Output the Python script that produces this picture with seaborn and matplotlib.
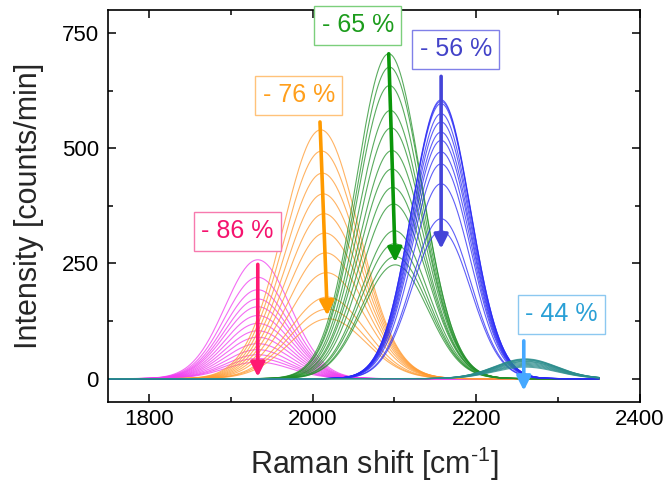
import numpy as np
import pandas as pd
import matplotlib
matplotlib.use("Agg")
import matplotlib.pyplot as plt
import seaborn as sns

# ---------------- data ----------------
x_start, x_stop = 1750, 2350

magenta_amp = [258, 220, 193, 173, 156, 137, 120, 104, 90, 76, 63, 52, 44, 36]
magenta_center = [1933] * 14
magenta_sigma = 40

orange_amp = [540, 494, 446, 401, 358, 316, 273, 230, 177, 151, 130]
orange_center = [2010, 2011, 2012, 2013, 2014, 2015, 2016, 2017, 2018, 2018, 2019]
orange_sigma = 46

green_amp = [705, 676, 636, 582, 544, 495, 455, 415, 379, 321, 293, 265, 247]
green_center = [2093, 2094, 2094, 2095, 2096, 2097, 2097, 2098, 2099, 2100, 2100, 2101, 2101]
green_sigma = 40

blue_amp = [605, 602, 597, 575, 557, 535, 517, 492, 466, 423, 347, 321]
blue_center = [2157] * 12
blue_sigma = 36

teal_amp = [43, 42, 41, 40, 38, 37, 35, 33, 31, 29, 27, 25]
teal_center = [2260] * 12
teal_sigma = 38

labels = ["- 86 %", "- 76 %", "- 65 %", "- 56 %", "- 44 %"]
label_x = [1908, 1983, 2055, 2175, 2304]
label_y = [320, 615, 767, 715, 140]
arrow_start = [(1933, 248), (2009, 557), (2093, 705), (2157, 656), (2258, 82)]
arrow_end = [(1933, 4), (2018, 137), (2101, 253), (2157, 282), (2258, -26)]

# ---------------- styles ----------------
line_colors = ["#f03cf0", "#ff9a30", "#23902a", "#2a2af5", "#2a8c8c"]
text_colors = ["#f5136e", "#ff9f1c", "#1c9c1c", "#4343c8", "#2aa0d6"]
edge_colors = ["#f77aae", "#ffc27a", "#7ccf7c", "#8080e8", "#8cc8f0"]
arrow_colors = ["#ff1a72", "#ff9a00", "#0a960a", "#4444d8", "#45a8ff"]

series = [
    (magenta_amp, magenta_center, magenta_sigma),
    (orange_amp, orange_center, orange_sigma),
    (green_amp, green_center, green_sigma),
    (blue_amp, blue_center, blue_sigma),
    (teal_amp, teal_center, teal_sigma),
]

shift = np.linspace(x_start, x_stop, 601)
frames = []
for s_idx, (amps, cents, sig) in enumerate(series):
    for c_idx, (a, c) in enumerate(zip(amps, cents)):
        frames.append(pd.DataFrame({
            "shift": shift,
            "intensity": a * np.exp(-0.5 * ((shift - c) / sig) ** 2),
            "series": s_idx,
            "curve": c_idx,
        }))
df = pd.concat(frames, ignore_index=True)

sns.set_theme(style="ticks")
plt.rcParams["font.family"] = ["Liberation Sans", "DejaVu Sans"]
plt.rcParams["mathtext.fontset"] = "custom"
plt.rcParams["mathtext.rm"] = "Liberation Sans"
plt.rcParams["mathtext.it"] = "Liberation Sans:italic"
plt.rcParams["mathtext.bf"] = "Liberation Sans:bold"

fig = plt.figure(figsize=(6.66, 4.87), dpi=100)
ax = fig.add_axes([108 / 666, 1 - 401.7 / 487, (640 - 108) / 666, (401.7 - 10) / 487])

for s_idx in range(len(series)):
    sub = df[df["series"] == s_idx]
    sns.lineplot(data=sub, x="shift", y="intensity", units="curve", estimator=None,
                 color=line_colors[s_idx], lw=0.8, alpha=0.75, ax=ax, legend=False)

ax.set_xlim(1750, 2400)
ax.set_ylim(-50, 800)
ax.set_xticks([1800, 2000, 2200, 2400])
ax.set_xticks([1900, 2100, 2300], minor=True)
ax.set_yticks([0, 250, 500, 750])
ax.set_yticks([125, 375, 625], minor=True)
ax.tick_params(which="both", direction="in", top=True, right=True, width=1.1, colors="black")
ax.tick_params(which="major", length=6)
ax.tick_params(which="minor", length=3.6)
ax.tick_params(axis="x", which="major", labelsize=16, pad=5)
ax.tick_params(axis="y", which="major", labelsize=16, pad=6.5)
for sp in ax.spines.values():
    sp.set_linewidth(1.2)
    sp.set_color("black")

ax.set_xlabel(r"Raman shift [cm$^{\text{-1}}$]", fontsize=22, labelpad=11)
ax.set_ylabel("Intensity [counts/min]", fontsize=22, labelpad=13)

for i in range(5):
    ax.annotate("", xy=arrow_end[i], xytext=arrow_start[i],
                arrowprops=dict(arrowstyle="-|>,head_length=0.6,head_width=0.3",
                                color=arrow_colors[i], lw=2.6, shrinkA=0, shrinkB=0,
                                mutation_scale=14), zorder=5)
    ax.text(label_x[i], label_y[i], labels[i], ha="center", va="center", fontsize=18,
            color=text_colors[i], zorder=6,
            bbox=dict(boxstyle="square,pad=0.3", fc="white", ec=edge_colors[i], lw=1.0))

fig.savefig("out.png", dpi=100)
